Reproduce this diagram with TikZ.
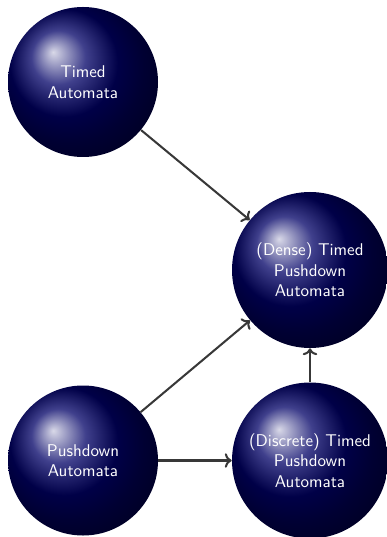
\documentclass[tikz,border=0pt]{standalone}
\usetikzlibrary{arrows.meta}
\begin{document}
\begin{tikzpicture}[x=0.588pt,y=-0.588pt,
  ballnode/.style={circle, ball color=blue!40!black, text=white, align=center,
    font=\sffamily, inner sep=0pt},
  conn/.style={draw=black!78, line width=1.2pt, -{To[length=4pt,width=8.5pt]}}]
\useasboundingbox (0,0) rectangle (386,537);
\node[ballnode, minimum size=150*0.588pt] (ta) at (83,82) {Timed\\Automata};
\node[ballnode, minimum size=156*0.588pt] (dtpa) at (310,270) {(Dense) Timed\\Pushdown\\Automata};
\node[ballnode, minimum size=150*0.588pt] (pda) at (83,460.5) {Pushdown\\Automata};
\node[ballnode, minimum size=156*0.588pt] (ctpa) at (310,460.5) {(Discrete) Timed\\Pushdown\\Automata};
\draw[conn] (ta) -- (dtpa);
\draw[conn] (pda) -- (dtpa);
\draw[conn] (pda) -- (ctpa);
\draw[conn] (ctpa) -- (dtpa);
\end{tikzpicture}
\end{document}
